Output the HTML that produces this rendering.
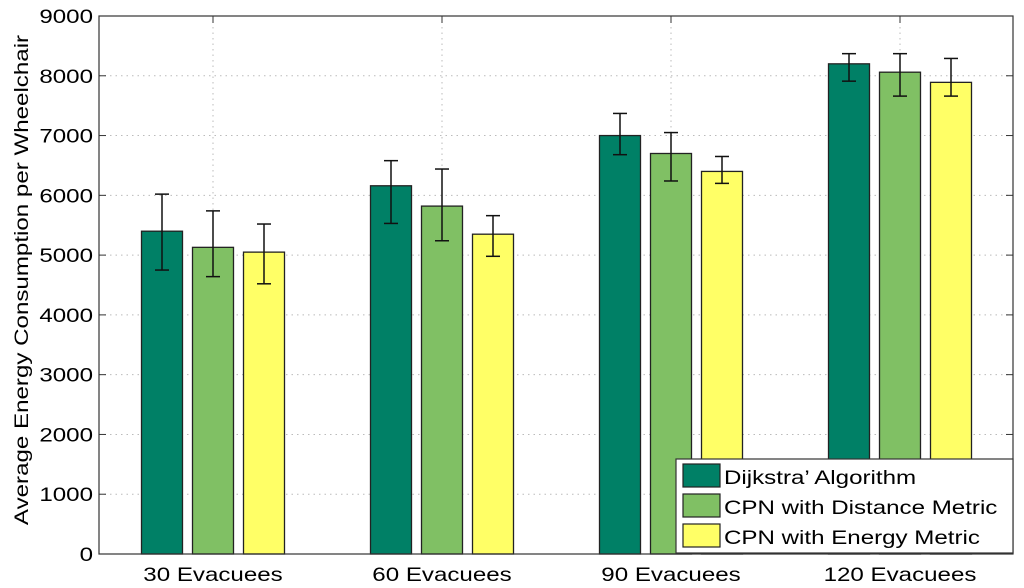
<!DOCTYPE html>
<html><head><meta charset="utf-8"><style>
html,body{margin:0;padding:0;background:#fff;}
svg{display:block;font-family:"Liberation Sans",sans-serif;}
</style></head><body>
<svg id="chart" width="1024" height="588" viewBox="0 0 1024 588"></svg>
<script>
const categories = ["30 Evacuees","60 Evacuees","90 Evacuees","120 Evacuees"];
const seriesNames = ["Dijkstra\u2019 Algorithm","CPN with Distance Metric","CPN with Energy Metric"];
const dijkstra = [5400, 6160, 7000, 8200];
const cpnDistance = [5130, 5820, 6700, 8060];
const cpnEnergy = [5050, 5350, 6400, 7890];
const dijkstraHi = [6020, 6580, 7370, 8370];
const dijkstraLo = [4750, 5530, 6680, 7910];
const distanceHi = [5740, 6440, 7050, 8370];
const distanceLo = [4640, 5240, 6240, 7660];
const energyHi = [5520, 5660, 6650, 8290];
const energyLo = [4520, 4980, 6200, 7660];
const yTicks = [0,1000,2000,3000,4000,5000,6000,7000,8000,9000];

const NS="http://www.w3.org/2000/svg";
const svg=document.getElementById('chart');
const L=99,R=1013,T=16,B=554,yMax=9000,SX=1.27;
const y=v=>B-(v/yMax)*(B-T);
const cx=i=>213+i*229;
const colors=["#008066","#80c064","#ffff66"];
const series=[dijkstra,cpnDistance,cpnEnergy];
const his=[dijkstraHi,distanceHi,energyHi];
const los=[dijkstraLo,distanceLo,energyLo];
function mk(t,a,p){const e=document.createElementNS(NS,t);for(const k in a)e.setAttribute(k,a[k]);(p||svg).appendChild(e);return e;}
function txt(x,yy,anchor,str,p,rot){
  const tr=rot?`translate(${x},${yy}) rotate(-90) scale(${SX},1)`:`translate(${x},${yy}) scale(${SX},1)`;
  const t=mk('text',{x:0,y:0,transform:tr,'text-anchor':anchor,'font-size':19,fill:'#000'},p);
  t.textContent=str;return t;
}

yTicks.forEach(v=>{
  if(v>0&&v<yMax){const g=mk('line',{x1:L,x2:R,y1:y(v),y2:y(v),stroke:'#bbb','stroke-dasharray':'1.5,4','stroke-width':1});
  
  }
  const tl=mk('line',{x1:L,x2:L+7,y1:y(v),y2:y(v),stroke:'#333'});
  
  
  const tr=mk('line',{x1:R-7,x2:R,y1:y(v),y2:y(v),stroke:'#333'});
  
  
  const t=txt(93,y(v)+7,'end',String(v));
  
  
});
categories.forEach((c,i)=>{
  const g=mk('line',{x1:cx(i),x2:cx(i),y1:T,y2:B,stroke:'#bbb','stroke-dasharray':'1.5,4'});
  
  
  const t1=mk('line',{x1:cx(i),x2:cx(i),y1:T,y2:T+7,stroke:'#333'});
  
  
  const t=txt(cx(i),581,'middle',c);
  
  
});
categories.forEach((c,i)=>{
  series.forEach((s,k)=>{
    const x0=cx(i)+(k-1)*51-20.5;
    const r=mk('rect',{x:x0,y:y(s[i]),width:41,height:B-y(s[i]),fill:colors[k],stroke:'#222','stroke-width':1.3});
    
    
  });
});
categories.forEach((c,i)=>{
  series.forEach((s,k)=>{
    const xc=cx(i)+(k-1)*51;
    const g=mk('g',{stroke:'#111','stroke-width':1.5});
    
    
    mk('line',{x1:xc,x2:xc,y1:y(his[k][i]),y2:y(los[k][i])},g);
    mk('line',{x1:xc-7,x2:xc+7,y1:y(his[k][i]),y2:y(his[k][i])},g);
    mk('line',{x1:xc-7,x2:xc+7,y1:y(los[k][i]),y2:y(los[k][i])},g);
  });
});
const fr=mk('rect',{x:L,y:T,width:R-L,height:B-T,fill:'none',stroke:'#333','stroke-width':1.2});


const yt=txt(28,280,'middle','Average Energy Consumption per Wheelchair',svg,true);


const lg=mk('g',{});


mk('rect',{x:676,y:459,width:337,height:94,fill:'#fff',stroke:'#333','stroke-width':1.2},lg);
seriesNames.forEach((n,k)=>{
  const e=mk('g',{},lg);
  
  
  mk('rect',{x:683,y:464+k*30,width:37,height:23,fill:colors[k],stroke:'#222','stroke-width':1.2},e);
  txt(724,484+k*30,'start',n,e);
});
</script>
</body></html>
